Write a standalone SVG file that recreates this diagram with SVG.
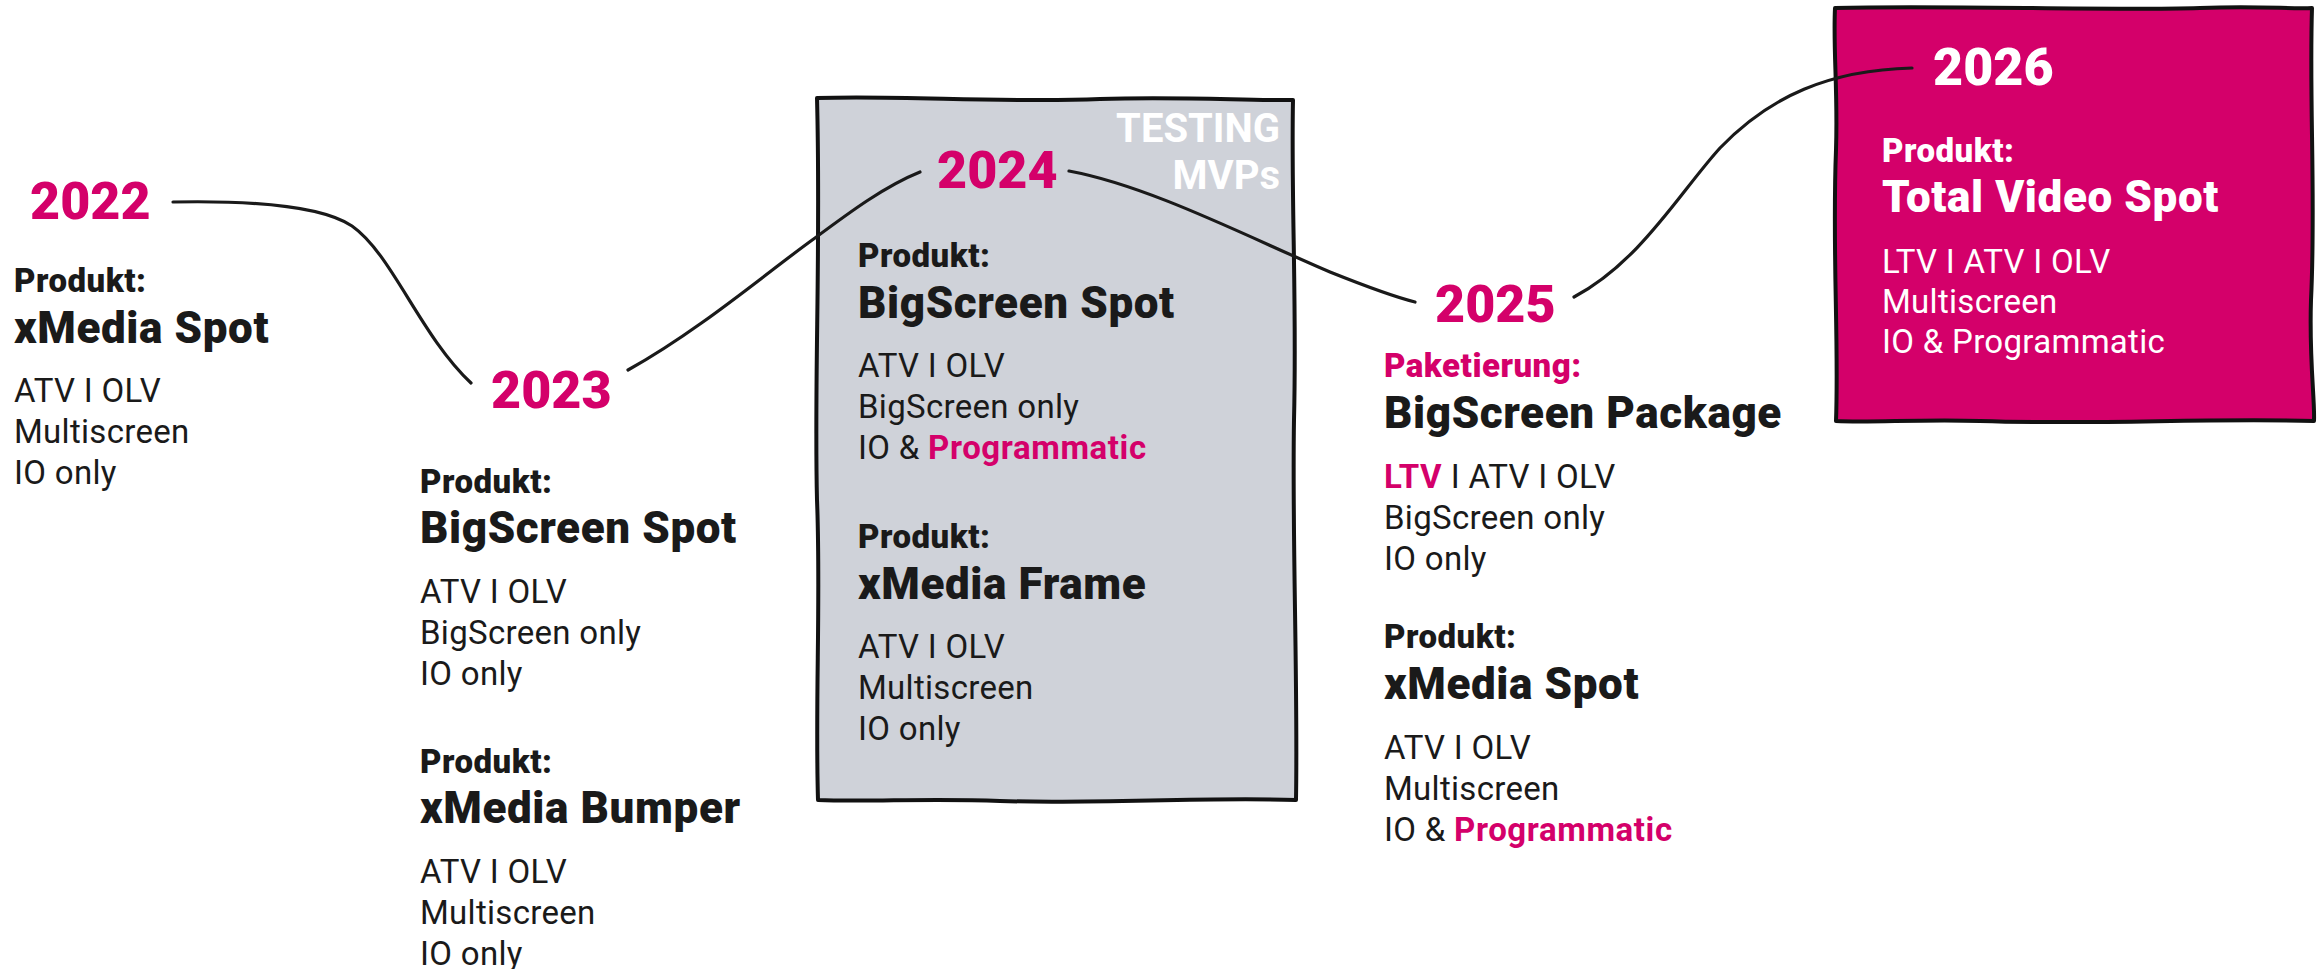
<svg xmlns="http://www.w3.org/2000/svg" width="2318" height="969" viewBox="0 0 2318 969">
<style>
text{font-family:Roboto,"Liberation Sans",sans-serif;fill:#1a1a1a}
.yr{font-size:52px;font-weight:900;fill:#d4006a}
.lbl{font-size:33px;font-weight:900;letter-spacing:0.5px}
.ttl{font-size:44px;font-weight:900;letter-spacing:0.6px}
.txt{font-size:33px;font-weight:400;letter-spacing:0.3px}
.pk{fill:#d4006a}
.pkb{fill:#d4006a;font-weight:700;letter-spacing:0.6px}
.conn{fill:none;stroke:#1a1a1a;stroke-width:3.2;stroke-linecap:round}
.box{stroke:#111;stroke-width:4;stroke-linejoin:round}
.tst{font-size:40px;font-weight:700;fill:#ffffff}
</style>
<rect width="2318" height="969" fill="#ffffff"/>
<g id="box2024">
<path class="box" fill="#cfd2d9" d="M817,98 C900,95 1000,103 1100,99 C1180,96 1250,101 1293,100 C1291,200 1297,300 1294,420 C1292,540 1298,680 1296,800 C1200,797 1100,804 1000,801 C930,798 870,802 818,800 C815,700 821,600 817,500 C814,380 821,250 817,98 Z"/>
<text class="tst" x="1280" y="142" text-anchor="end">TESTING</text>
<text class="tst" x="1280" y="189" text-anchor="end">MVPs</text>
</g>
<g id="box2026">
<path class="box" fill="#d4006a" d="M1835,8 C1950,5 2100,11 2200,8 C2260,6 2290,9 2312,8 C2309,100 2316,200 2311,300 C2309,360 2315,400 2314,421 C2200,418 2100,425 1980,421 C1920,419 1870,423 1836,421 C1839,340 1832,250 1836,150 C1838,90 1833,50 1835,8 Z"/>
</g>
<g id="connectors">
<path class="conn" d="M173,202 C275,200 328,210 352,226 C392,254 420,335 471,383"/>
<path class="conn" d="M628,370 C700,330 770,270 815,238 C850,212 885,186 920,172"/>
<path class="conn" d="M1069,171 C1150,186 1250,238 1330,272 C1370,288 1395,297 1415,302"/>
<path class="conn" d="M1574,297 C1640,262 1680,192 1720,148 C1770,96 1830,70 1912,68"/>
</g>
<g id="n2022">
<text class="yr" x="30" y="219">2022</text>
<text class="lbl" x="14" y="292">Produkt:</text>
<text class="ttl" x="14" y="343">xMedia Spot</text>
<text class="txt" x="14" y="402">ATV I OLV</text>
<text class="txt" x="14" y="443">Multiscreen</text>
<text class="txt" x="14" y="484">IO only</text>
</g>
<g id="n2023">
<text class="yr" x="491" y="408">2023</text>
<text class="lbl" x="420" y="493">Produkt:</text>
<text class="ttl" x="420" y="543">BigScreen Spot</text>
<text class="txt" x="420" y="603">ATV I OLV</text>
<text class="txt" x="420" y="644">BigScreen only</text>
<text class="txt" x="420" y="685">IO only</text>
<text class="lbl" x="420" y="773">Produkt:</text>
<text class="ttl" x="420" y="823">xMedia Bumper</text>
<text class="txt" x="420" y="883">ATV I OLV</text>
<text class="txt" x="420" y="924">Multiscreen</text>
<text class="txt" x="420" y="965">IO only</text>
</g>
<g id="n2024">
<text class="yr" x="937" y="188">2024</text>
<text class="lbl" x="858" y="267">Produkt:</text>
<text class="ttl" x="858" y="318">BigScreen Spot</text>
<text class="txt" x="858" y="377">ATV I OLV</text>
<text class="txt" x="858" y="418">BigScreen only</text>
<text class="txt" x="858" y="459">IO &amp; <tspan class="pkb">Programmatic</tspan></text>
<text class="lbl" x="858" y="548">Produkt:</text>
<text class="ttl" x="858" y="599">xMedia Frame</text>
<text class="txt" x="858" y="658">ATV I OLV</text>
<text class="txt" x="858" y="699">Multiscreen</text>
<text class="txt" x="858" y="740">IO only</text>
</g>
<g id="n2025">
<text class="yr" x="1435" y="322">2025</text>
<text class="lbl pk" x="1384" y="377">Paketierung:</text>
<text class="ttl" x="1384" y="428">BigScreen Package</text>
<text class="txt" x="1384" y="488"><tspan class="pkb">LTV</tspan> I ATV I OLV</text>
<text class="txt" x="1384" y="529">BigScreen only</text>
<text class="txt" x="1384" y="570">IO only</text>
<text class="lbl" x="1384" y="648">Produkt:</text>
<text class="ttl" x="1384" y="699">xMedia Spot</text>
<text class="txt" x="1384" y="759">ATV I OLV</text>
<text class="txt" x="1384" y="800">Multiscreen</text>
<text class="txt" x="1384" y="841">IO &amp; <tspan class="pkb">Programmatic</tspan></text>
</g>
<g id="n2026">
<text class="yr" x="1933" y="85" style="fill:#fff">2026</text>
<text class="lbl" x="1882" y="162" style="fill:#fff">Produkt:</text>
<text class="ttl" x="1882" y="212" style="fill:#fff">Total Video Spot</text>
<text class="txt" x="1882" y="273" style="fill:#fff">LTV I ATV I OLV</text>
<text class="txt" x="1882" y="313" style="fill:#fff">Multiscreen</text>
<text class="txt" x="1882" y="353" style="fill:#fff">IO &amp; Programmatic</text>
</g>
</svg>
